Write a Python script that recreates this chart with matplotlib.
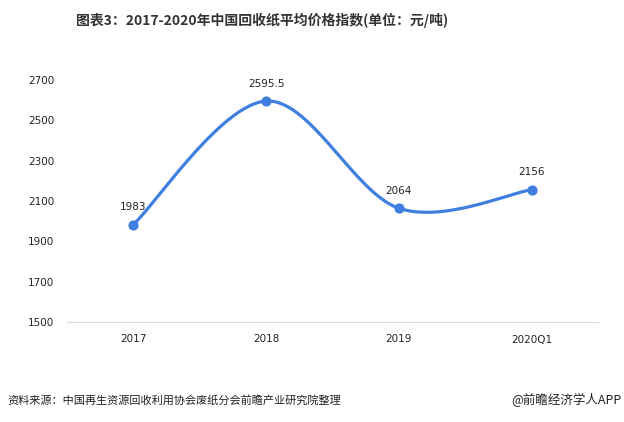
import numpy as np
import matplotlib
matplotlib.use("Agg")
import matplotlib.pyplot as plt

plt.rcParams['font.family'] = ['Noto Sans CJK SC', 'DejaVu Sans']

periods = ["2017", "2018", "2019", "2020Q1"]
price_index = [1983, 2595.5, 2064, 2156]
value_labels = ["1983", "2595.5", "2064", "2156"]
y_ticks = [1500, 1700, 1900, 2100, 2300, 2500, 2700]

title = "图表3：2017-2020年中国回收纸平均价格指数(单位：元/吨)"
source = "资料来源：中国再生资源回收利用协会废纸分会前瞻产业研究院整理"
credit = "@前瞻经济学人APP"

line_color = "#3F7FE0"


def smooth_curve(xs, ys, steps=60):
    # cubic bezier through the points, control points from neighbours (catmull-rom, 1/6)
    pts = np.column_stack([xs, ys]).astype(float)
    padded = np.vstack([pts[0], pts, pts[-1]])
    out = []
    t = np.linspace(0, 1, steps)[:, None]
    for i in range(len(pts) - 1):
        p0 = padded[i + 1]
        p3 = padded[i + 2]
        c1 = p0 + (p3 - padded[i]) / 6
        c2 = p3 - (padded[i + 3] - p0) / 6
        seg = ((1 - t) ** 3) * p0 + 3 * ((1 - t) ** 2) * t * c1 \
            + 3 * (1 - t) * t ** 2 * c2 + t ** 3 * p3
        out.append(seg if i == 0 else seg[1:])
    seg = np.vstack(out)
    return seg[:, 0], seg[:, 1]


fig = plt.figure(figsize=(6.24, 4.22), dpi=100)
ax = fig.add_axes([67 / 624, 1 - 322 / 422, 531 / 624, 242 / 422])

x = np.arange(len(periods))
sx, sy = smooth_curve(x, price_index)
ax.plot(sx, sy, color=line_color, lw=2.3, solid_capstyle="round", zorder=2)
ax.scatter(x, price_index, s=40, color=line_color, zorder=3)

for xi, yi, lab in zip(x, price_index, value_labels):
    ax.annotate(lab, (xi, yi), xytext=(0, 9), textcoords="offset points",
                ha="center", va="bottom", fontsize=7.5, color="#222222",
                family=["DejaVu Sans"])

ax.set_xlim(-0.5, len(periods) - 0.5)
ax.set_ylim(1500, 2700)
ax.set_yticks(y_ticks)
ax.set_xticks(x)
ax.set_xticklabels(periods)
ax.tick_params(length=0, labelsize=7.5, colors="#222222")
ax.tick_params(axis="y", pad=9)
ax.tick_params(axis="x", pad=9)
for lab in ax.get_xticklabels() + ax.get_yticklabels():
    lab.set_family(["DejaVu Sans"])

for side in ["top", "right", "left"]:
    ax.spines[side].set_visible(False)
ax.spines["bottom"].set_color("#d9d9d9")

fig.text(262 / 624, 1 - 20 / 422, title, ha="center", va="center",
         fontsize=10, fontweight="bold", color="#333333")
fig.text(7 / 624, 1 - 400 / 422, source, ha="left", va="center",
         fontsize=8, color="#222222")
fig.text(621 / 624, 1 - 400 / 422, credit, ha="right", va="center",
         fontsize=9, color="#222222")

fig.savefig("out.png", dpi=100)
